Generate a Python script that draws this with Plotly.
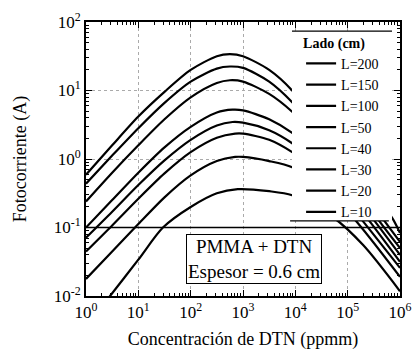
import plotly.graph_objects as go

SERIF = "Liberation Serif, Times New Roman, serif"

# Curve labels (legend order)
labels = ["L=200", "L=150", "L=100", "L=50", "L=40", "L=30", "L=20", "L=10"]

# log10(concentration, ppmm) and log10(photocurrent, A)
e_c_200 = [0, 0.5, 1, 1.5, 2, 2.5, 2.75, 3, 3.5, 3.94, 4.5, 5, 5.5, 5.85, 6]
e_i_200 = [-0.23, 0.2, 0.62, 0.98, 1.3, 1.5, 1.53, 1.5, 1.3, 1.0, 0.45, -0.08, -0.52, -0.86, -1.08]

e_c_150 = [0, 0.5, 1, 1.5, 2, 2.5, 2.75, 3, 3.5, 3.94, 4.5, 5, 5.66, 6]
e_i_150 = [-0.36, 0.05, 0.45, 0.82, 1.13, 1.32, 1.35, 1.33, 1.13, 0.83, 0.33, -0.15, -0.86, -1.21]

e_c_100 = [0, 0.5, 1, 1.5, 2, 2.5, 2.75, 3, 3.5, 3.94, 4.5, 5, 5.56, 6]
e_i_100 = [-0.62, -0.2, 0.2, 0.58, 0.9, 1.11, 1.15, 1.13, 0.95, 0.69, 0.25, -0.22, -0.86, -1.30]

e_c_50 = [0, 0.5, 1, 1.5, 2, 2.5, 2.8, 3, 3.5, 3.94, 4.5, 5, 5.47, 6]
e_i_50 = [-1.0, -0.6, -0.2, 0.17, 0.47, 0.68, 0.72, 0.71, 0.58, 0.38, 0.0, -0.4, -0.86, -1.40]

e_c_40 = [0, 0.5, 1, 1.5, 2, 2.5, 2.8, 3, 3.5, 3.94, 4.5, 5, 5.37, 6]
e_i_40 = [-1.15, -0.77, -0.38, -0.02, 0.28, 0.49, 0.54, 0.53, 0.42, 0.23, -0.12, -0.5, -0.86, -1.50]

e_c_30 = [0, 0.5, 1, 1.5, 2, 2.5, 2.85, 3, 3.5, 3.94, 4.5, 4.9, 5.24, 6]
e_i_30 = [-1.35, -0.97, -0.58, -0.21, 0.1, 0.31, 0.37, 0.37, 0.28, 0.1, -0.22, -0.55, -0.86, -1.59]

e_c_20 = [0, 0.5, 1, 1.5, 2, 2.5, 2.85, 3, 3.5, 3.94, 4.5, 5.11, 6]
e_i_20 = [-1.75, -1.35, -0.95, -0.56, -0.24, -0.03, 0.03, 0.03, -0.03, -0.12, -0.4, -0.86, -1.72]

e_c_10 = [0, 0.46, 1, 1.47, 2, 2.5, 2.9, 3.5, 3.94, 4.72, 5.3, 6]
e_i_10 = [-2.45, -2.0, -1.47, -1.0, -0.7, -0.5, -0.44, -0.47, -0.53, -0.85, -1.26, -1.93]

series_c = [e_c_200, e_c_150, e_c_100, e_c_50, e_c_40, e_c_30, e_c_20, e_c_10]
series_i = [e_i_200, e_i_150, e_i_100, e_i_50, e_i_40, e_i_30, e_i_20, e_i_10]

x_tickvals = [1, 10, 100, 1e3, 1e4, 1e5, 1e6]
x_ticktext = ["10<sup>0</sup>", "10<sup>1</sup>", "10<sup>2</sup>", "10<sup>3</sup>",
              "10<sup>4</sup>", "10<sup>5</sup>", "10<sup>6</sup>"]
y_tickvals = [0.01, 0.1, 1, 10, 100]
y_ticktext = ["10<sup>-2</sup>", "10<sup>-1</sup>", "10<sup>0</sup>", "10<sup>1</sup>", "10<sup>2</sup>"]

ref_level = 0.1  # horizontal reference line

fig = go.Figure()
for lab, ec, ei in zip(labels, series_c, series_i):
    fig.add_trace(go.Scatter(
        x=[10 ** v for v in ec], y=[10 ** v for v in ei], mode="lines", name=lab,
        line=dict(color="black", width=2.2, shape="spline", smoothing=0.8),
    ))

fig.add_trace(go.Scatter(x=[1, 1e6], y=[ref_level, ref_level], mode="lines",
                         line=dict(color="black", width=1.5), showlegend=False, hoverinfo="skip"))

# legend box geometry (paper coords)
L0, L1, B0, B1 = 0.656, 0.9745, 0.274, 0.967
fig.add_shape(type="rect", xref="paper", yref="paper", x0=L0, x1=L1, y0=B0, y1=B1,
              fillcolor="white", line=dict(width=0), layer="above")
fig.add_shape(type="line", xref="paper", yref="paper", x0=L0, x1=L1, y0=B1, y1=B1,
              line=dict(color="black", width=1.2), layer="above")
fig.add_shape(type="line", xref="paper", yref="paper", x0=L0 - 0.006, x1=L1 - 0.01, y0=B0, y1=B0,
              line=dict(color="black", width=1.2), layer="above")

fig.add_annotation(xref="paper", yref="paper", x=0.535, y=0.136, xanchor="center", yanchor="middle",
                   text="PMMA + DTN<br>Espesor = 0.6 cm", showarrow=False,
                   font=dict(family=SERIF, size=19, color="black"),
                   bgcolor="white", bordercolor="black", borderwidth=1, borderpad=1,
                   align="center")

axis_common = dict(
    type="log", showline=True, linecolor="black", linewidth=2, mirror="allticks",
    ticks="inside", ticklen=6, tickwidth=1.2, tickcolor="black",
    showgrid=True, gridcolor="#aaa", griddash="dot", gridwidth=1, automargin=False,
    zeroline=False, tickfont=dict(family=SERIF, size=17, color="black"),
    minor=dict(ticks="inside", ticklen=3, tickcolor="black", dtick="D1", showgrid=False),
)

fig.update_xaxes(range=[0, 6], tickmode="array", tickvals=x_tickvals, ticktext=x_ticktext,
                 title=dict(text="Concentración de DTN (ppmm)", font=dict(family=SERIF, size=18, color="black"),
                            standoff=11),
                 **axis_common)
fig.update_yaxes(range=[-2, 2], tickmode="array", tickvals=y_tickvals, ticktext=y_ticktext,
                 title=dict(text="Fotocorriente (A)", font=dict(family=SERIF, size=18, color="black"),
                            standoff=22),
                 **axis_common)

fig.update_layout(
    width=417, height=352,
    margin=dict(l=86, r=17, t=22, b=56),
    paper_bgcolor="white", plot_bgcolor="white",
    legend=dict(x=0.685, y=0.972, xanchor="left", yanchor="top",
                bgcolor="rgba(0,0,0,0)", borderwidth=0, tracegroupgap=0,
                font=dict(family=SERIF, size=14, color="black"),
                title=dict(text="<b>Lado (cm)</b>", font=dict(family=SERIF, size=14, color="black"))),
    showlegend=True,
)

fig.write_html("out.html")
